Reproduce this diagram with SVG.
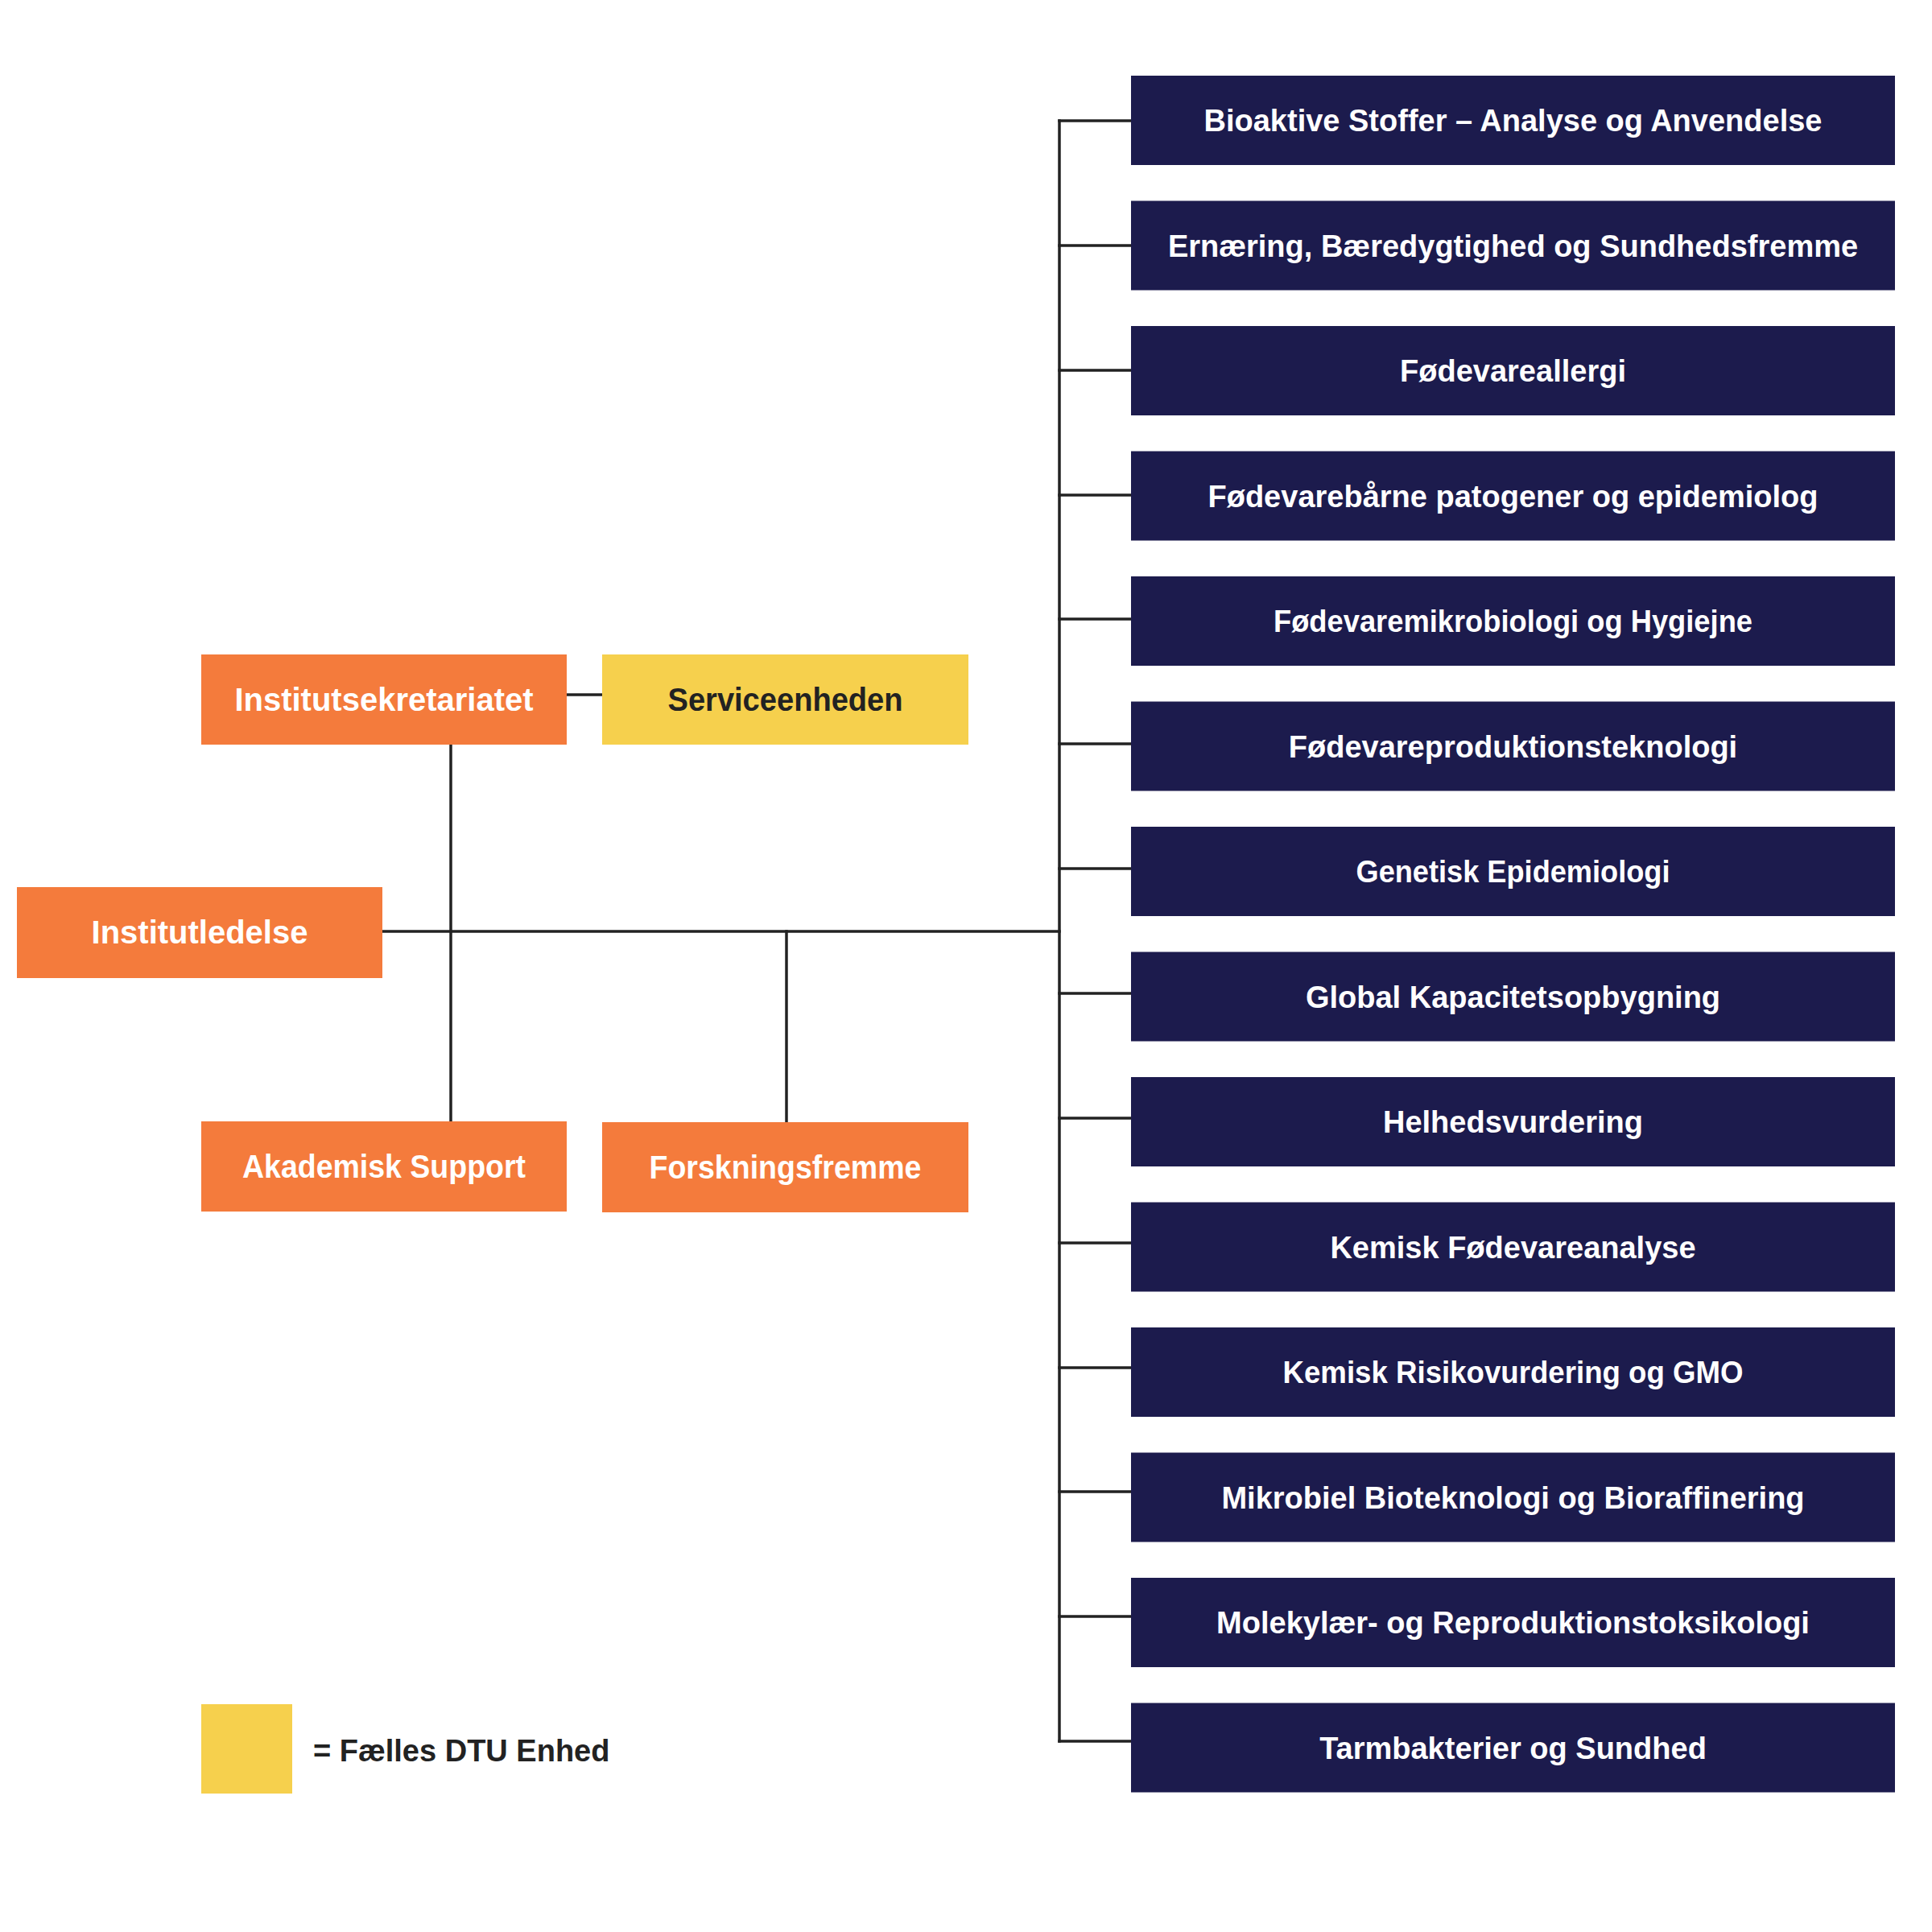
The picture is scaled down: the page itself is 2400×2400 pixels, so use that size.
<svg xmlns="http://www.w3.org/2000/svg" width="2400" height="2400" viewBox="0 0 2400 2400">
<style>
.navy{fill:#1c1b4d}
.orange{fill:#f47b3c}
.yellow{fill:#f6d04d}
.wt{font-family:"Liberation Sans",Arial,sans-serif;font-weight:bold;font-size:38px;fill:#ffffff;text-anchor:middle}
.lt{font-family:"Liberation Sans",Arial,sans-serif;font-weight:bold;font-size:40px;fill:#ffffff;text-anchor:middle}
.dt{font-family:"Liberation Sans",Arial,sans-serif;font-weight:bold;font-size:40px;fill:#222222;text-anchor:middle}
.leg{font-family:"Liberation Sans",Arial,sans-serif;font-weight:bold;font-size:38px;fill:#222222}
.conn{stroke:#222222;stroke-width:3.5;fill:none;stroke-linecap:square}
</style>
<rect width="2400" height="2400" fill="#ffffff"/>
<g id="connectors" class="conn">
<line x1="704" y1="863" x2="748" y2="863"/>
<line x1="474" y1="1157" x2="1316" y2="1157"/>
<line x1="560" y1="925" x2="560" y2="1393"/>
<line x1="977" y1="1157" x2="977" y2="1394"/>
<line x1="1316" y1="150" x2="1316" y2="2163"/>
<line x1="1316" y1="150" x2="1405" y2="150"/>
<line x1="1316" y1="305" x2="1405" y2="305"/>
<line x1="1316" y1="460" x2="1405" y2="460"/>
<line x1="1316" y1="615" x2="1405" y2="615"/>
<line x1="1316" y1="769" x2="1405" y2="769"/>
<line x1="1316" y1="924" x2="1405" y2="924"/>
<line x1="1316" y1="1079" x2="1405" y2="1079"/>
<line x1="1316" y1="1234" x2="1405" y2="1234"/>
<line x1="1316" y1="1389" x2="1405" y2="1389"/>
<line x1="1316" y1="1544" x2="1405" y2="1544"/>
<line x1="1316" y1="1699" x2="1405" y2="1699"/>
<line x1="1316" y1="1853" x2="1405" y2="1853"/>
<line x1="1316" y1="2008" x2="1405" y2="2008"/>
<line x1="1316" y1="2163" x2="1405" y2="2163"/>
</g>
<g id="institutsekretariatet"><rect class="orange" x="250" y="813" width="454" height="112"/><text class="lt" x="477" y="883">Institutsekretariatet</text></g>
<g id="serviceenheden"><rect class="yellow" x="748" y="813" width="455" height="112"/><text class="dt" x="975.5" y="883" textLength="292" lengthAdjust="spacingAndGlyphs">Serviceenheden</text></g>
<g id="institutledelse"><rect class="orange" x="21" y="1102" width="454" height="113"/><text class="lt" x="248" y="1172">Institutledelse</text></g>
<g id="akademisk-support"><rect class="orange" x="250" y="1393" width="454" height="112"/><text class="lt" x="477" y="1463" textLength="352" lengthAdjust="spacingAndGlyphs">Akademisk Support</text></g>
<g id="forskningsfremme"><rect class="orange" x="748" y="1394" width="455" height="112"/><text class="lt" x="975.5" y="1464" textLength="338" lengthAdjust="spacingAndGlyphs">Forskningsfremme</text></g>
<g id="u1"><rect class="navy" x="1405" y="94" width="949" height="111"/><text class="wt" x="1879.5" y="163">Bioaktive Stoffer – Analyse og Anvendelse</text></g>
<g id="u2"><rect class="navy" x="1405" y="249.5" width="949" height="111"/><text class="wt" x="1879.5" y="318.5">Ernæring, Bæredygtighed og Sundhedsfremme</text></g>
<g id="u3"><rect class="navy" x="1405" y="405" width="949" height="111"/><text class="wt" x="1879.5" y="474">Fødevareallergi</text></g>
<g id="u4"><rect class="navy" x="1405" y="560.5" width="949" height="111"/><text class="wt" x="1879.5" y="629.5">Fødevarebårne patogener og epidemiolog</text></g>
<g id="u5"><rect class="navy" x="1405" y="716" width="949" height="111"/><text class="wt" x="1879.5" y="785" textLength="595" lengthAdjust="spacingAndGlyphs">Fødevaremikrobiologi og Hygiejne</text></g>
<g id="u6"><rect class="navy" x="1405" y="871.5" width="949" height="111"/><text class="wt" x="1879.5" y="940.5">Fødevareproduktionsteknologi</text></g>
<g id="u7"><rect class="navy" x="1405" y="1027" width="949" height="111"/><text class="wt" x="1879.5" y="1096" textLength="390" lengthAdjust="spacingAndGlyphs">Genetisk Epidemiologi</text></g>
<g id="u8"><rect class="navy" x="1405" y="1182.5" width="949" height="111"/><text class="wt" x="1879.5" y="1251.5">Global Kapacitetsopbygning</text></g>
<g id="u9"><rect class="navy" x="1405" y="1338" width="949" height="111"/><text class="wt" x="1879.5" y="1407">Helhedsvurdering</text></g>
<g id="u10"><rect class="navy" x="1405" y="1493.5" width="949" height="111"/><text class="wt" x="1879.5" y="1562.5">Kemisk Fødevareanalyse</text></g>
<g id="u11"><rect class="navy" x="1405" y="1649" width="949" height="111"/><text class="wt" x="1879.5" y="1718" textLength="572" lengthAdjust="spacingAndGlyphs">Kemisk Risikovurdering og GMO</text></g>
<g id="u12"><rect class="navy" x="1405" y="1804.5" width="949" height="111"/><text class="wt" x="1879.5" y="1873.5">Mikrobiel Bioteknologi og Bioraffinering</text></g>
<g id="u13"><rect class="navy" x="1405" y="1960" width="949" height="111"/><text class="wt" x="1879.5" y="2029">Molekylær- og Reproduktionstoksikologi</text></g>
<g id="u14"><rect class="navy" x="1405" y="2115.5" width="949" height="111"/><text class="wt" x="1879.5" y="2184.5">Tarmbakterier og Sundhed</text></g>
<g id="legend"><rect class="yellow" x="250" y="2117" width="113" height="111"/><text class="leg" x="389" y="2188">= Fælles DTU Enhed</text></g>
</svg>
